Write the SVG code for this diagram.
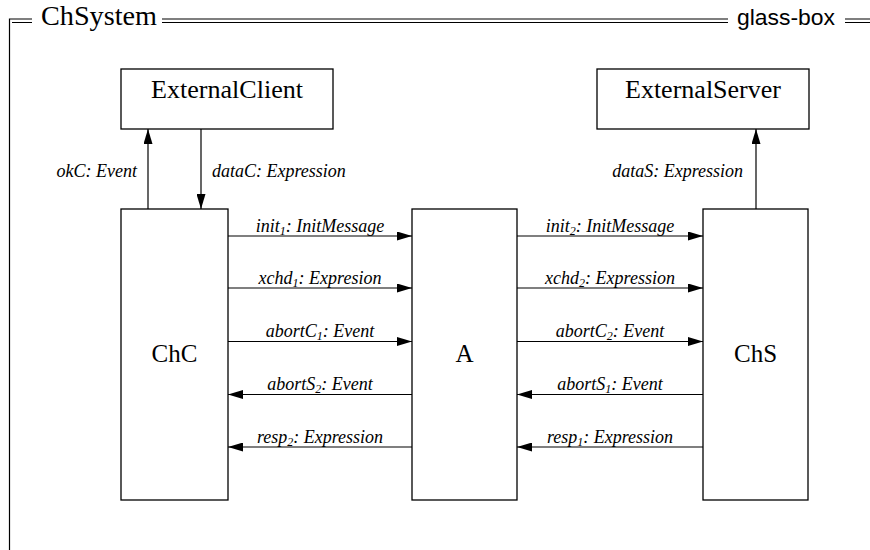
<svg xmlns="http://www.w3.org/2000/svg" width="870" height="550" viewBox="0 0 870 550">
<style>
.box{fill:#fff;stroke:#000;stroke-width:1.3}
.frame{stroke:#000;stroke-width:1.2;fill:none}
.con{stroke:#000;stroke-width:1.2;fill:none}
.serif{font-family:"Liberation Serif",Tinos,"Times New Roman",Times,"DejaVu Serif","Noto Serif",serif}
.nl{font-size:25px;text-anchor:middle;fill:#000}
.el{font-style:italic;font-size:18px;fill:#000}
.sub{font-size:12px}
.mid{text-anchor:middle}
.end{text-anchor:end}
.sans{font-family:"Liberation Sans",Arial,sans-serif}
</style>
<defs>
<marker id="ah" viewBox="0 0 15 9" refX="15" refY="4.5" markerWidth="15" markerHeight="9" markerUnits="userSpaceOnUse" orient="auto">
<path d="M0,0 L15,4.5 L0,9 Z" fill="#000"/>
</marker>
</defs>
<rect width="870" height="550" fill="#fff"/>
<g id="frame">
<path class="frame" d="M9.5,550 V19 H32 M12,22.5 H32 M162,19 H728 M162,22.5 H728 M845,19 H870 M845,22.5 H870"/>
<text class="serif" x="41" y="24.5" font-size="27" textLength="116" lengthAdjust="spacingAndGlyphs">ChSystem</text>
<text class="sans" x="737" y="25" font-size="22" textLength="98" lengthAdjust="spacingAndGlyphs">glass-box</text>
</g>
<g id="ExternalClient">
<rect class="box" x="121" y="69" width="212" height="60"/>
<text class="serif nl" x="227" y="98" textLength="152" lengthAdjust="spacingAndGlyphs">ExternalClient</text>
</g>
<g id="ExternalServer">
<rect class="box" x="597" y="69" width="212" height="60"/>
<text class="serif nl" x="703" y="98" textLength="156" lengthAdjust="spacingAndGlyphs">ExternalServer</text>
</g>
<g id="ChC">
<rect class="box" x="121" y="209" width="107" height="291"/>
<text class="serif nl" x="174.5" y="362">ChC</text>
</g>
<g id="A">
<rect class="box" x="412" y="209" width="105" height="291"/>
<text class="serif nl" x="464.5" y="362">A</text>
</g>
<g id="ChS">
<rect class="box" x="703" y="209" width="105" height="291"/>
<text class="serif nl" x="755.5" y="362">ChS</text>
</g>
<g id="connectors">
<line class="con" x1="148" y1="209" x2="148" y2="129" marker-end="url(#ah)"/>
<line class="con" x1="201" y1="129" x2="201" y2="209" marker-end="url(#ah)"/>
<line class="con" x1="756" y1="209" x2="756" y2="129" marker-end="url(#ah)"/>
<line class="con" x1="228" y1="236" x2="412" y2="236" marker-end="url(#ah)"/>
<line class="con" x1="228" y1="288" x2="412" y2="288" marker-end="url(#ah)"/>
<line class="con" x1="228" y1="341.5" x2="412" y2="341.5" marker-end="url(#ah)"/>
<line class="con" x1="412" y1="394.5" x2="228" y2="394.5" marker-end="url(#ah)"/>
<line class="con" x1="412" y1="447" x2="228" y2="447" marker-end="url(#ah)"/>
<line class="con" x1="517" y1="236" x2="703" y2="236" marker-end="url(#ah)"/>
<line class="con" x1="517" y1="288" x2="703" y2="288" marker-end="url(#ah)"/>
<line class="con" x1="517" y1="341.5" x2="703" y2="341.5" marker-end="url(#ah)"/>
<line class="con" x1="703" y1="394.5" x2="517" y2="394.5" marker-end="url(#ah)"/>
<line class="con" x1="703" y1="447" x2="517" y2="447" marker-end="url(#ah)"/>
<text class="serif el end" x="137" y="177">okC: Event</text>
<text class="serif el" x="212" y="177">dataC: Expression</text>
<text class="serif el end" x="743" y="177">dataS: Expression</text>
<text class="serif el mid" x="320" y="232">init<tspan class="sub" dy="3">1</tspan><tspan dy="-3">: InitMessage</tspan></text>
<text class="serif el mid" x="320" y="284">xchd<tspan class="sub" dy="3">1</tspan><tspan dy="-3">: Expresion</tspan></text>
<text class="serif el mid" x="320" y="337">abortC<tspan class="sub" dy="3">1</tspan><tspan dy="-3">: Event</tspan></text>
<text class="serif el mid" x="320" y="390">abortS<tspan class="sub" dy="3">2</tspan><tspan dy="-3">: Event</tspan></text>
<text class="serif el mid" x="320" y="443">resp<tspan class="sub" dy="3">2</tspan><tspan dy="-3">: Expression</tspan></text>
<text class="serif el mid" x="610" y="232">init<tspan class="sub" dy="3">2</tspan><tspan dy="-3">: InitMessage</tspan></text>
<text class="serif el mid" x="610" y="284">xchd<tspan class="sub" dy="3">2</tspan><tspan dy="-3">: Expression</tspan></text>
<text class="serif el mid" x="610" y="337">abortC<tspan class="sub" dy="3">2</tspan><tspan dy="-3">: Event</tspan></text>
<text class="serif el mid" x="610" y="390">abortS<tspan class="sub" dy="3">1</tspan><tspan dy="-3">: Event</tspan></text>
<text class="serif el mid" x="610" y="443">resp<tspan class="sub" dy="3">1</tspan><tspan dy="-3">: Expression</tspan></text>
</g>
</svg>
